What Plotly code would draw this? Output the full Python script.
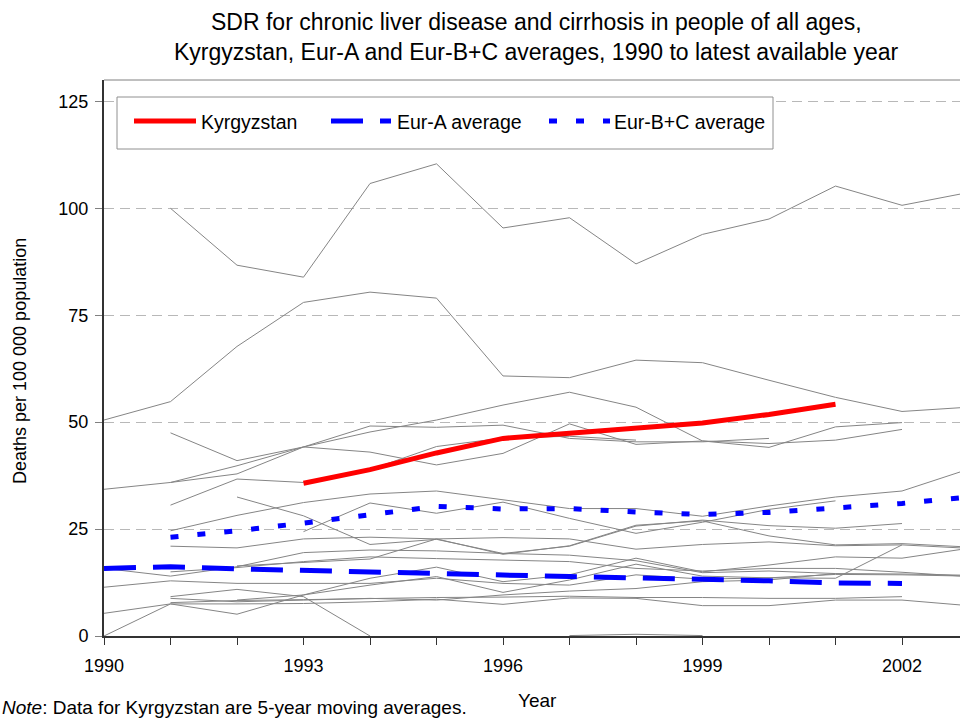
import plotly.graph_objects as go

# Years on the x axis
years = list(range(1990, 2004))
tick_years = [1990, 1993, 1996, 1999, 2002]
y_ticks = [0, 25, 50, 75, 100, 125]

# Standardized death rates per 100 000 (None = no data for that year)
kyrgyzstan = [None, None, None, 35.7, 38.9, 42.8, 46.2, 47.4, 48.6, 49.8, 51.8, 54.2, None, None]
eur_a_avg = [15.8, 16.2, 15.7, 15.3, 15.0, 14.6, 14.2, 13.9, 13.6, 13.3, 12.9, 12.4, 12.3, None]
eur_bc_avg = [None, 23.1, 24.6, 26.4, 28.3, 30.3, 29.7, 29.8, 29.0, 28.4, 28.9, 29.9, 31.0, 32.5]

# Other countries of the region (thin grey lines)
country_01 = [None, 100.0, 86.7, 83.9, 105.8, 110.4, 95.4, 97.8, 87.0, 93.9, 97.5, 105.2, 100.7, 103.7]
country_02 = [50.5, 54.8, 67.7, 78.0, 80.4, 79.0, 60.8, 60.4, 64.5, 63.9, 59.8, 55.8, 52.5, 53.5]
country_03 = [None, 35.9, 37.9, 44.2, 47.7, 50.5, 54.0, 57.0, 53.5, 45.6, 45.0, 45.8, 48.3, None]
country_04 = [34.3, 35.9, 39.8, 44.2, 49.1, 48.8, 49.3, 46.2, 45.4, 45.4, 46.2, None, None, None]
country_05 = [None, 47.5, 41.0, 44.2, 43.0, 40.0, 42.7, 49.6, 44.8, 45.6, 44.1, 48.9, 49.9, None]
country_06 = [None, 30.6, 36.7, 35.9, 38.9, 44.3, 46.3, 46.7, 45.8, None, None, None, None, None]
country_07 = [None, 24.6, 28.2, 31.2, 33.2, 33.9, 31.9, 29.8, 29.8, 28.0, 30.4, 32.5, 33.9, 39.0]
country_08 = [None, None, 32.5, 28.1, 21.4, 22.6, 19.3, 21.0, 25.7, 27.1, 25.8, 25.2, 26.3, None]
country_09 = [None, None, None, 24.4, 31.1, 28.7, 31.3, 27.5, 24.0, 26.6, 29.6, 31.6, None, None]
country_10 = [None, 21.0, 20.6, 22.7, 23.1, 22.7, 23.0, 22.7, 20.3, 21.4, 22.0, 21.1, 21.3, 20.5]
country_11 = [None, None, 16.4, 17.2, 18.0, 22.7, 19.1, 21.1, 25.9, 26.9, 23.4, 21.3, 21.6, 20.8]
country_12 = [None, 15.0, 16.0, 17.4, 18.5, 18.1, 17.8, 17.4, 15.8, 15.2, 15.8, 15.8, 14.9, 13.9]
country_13 = [15.8, 14.0, 16.2, 19.5, 20.1, 19.9, 19.3, 18.9, 17.6, 14.8, 15.2, 14.6, 14.5, 14.2]
country_14 = [0.0, 7.5, 5.1, 9.6, 13.5, 16.1, 12.7, 14.3, 18.2, 15.0, 16.6, 18.5, 18.2, 20.5]
country_15 = [None, None, 8.4, 9.6, 11.9, 13.9, 10.2, 13.1, 16.8, 14.0, 13.6, 13.5, 21.3, None]
country_16 = [11.4, 12.9, 12.3, 12.3, 12.3, 13.5, 12.3, 11.9, 14.3, 13.3, 13.6, 14.4, 14.3, 14.0]
country_17 = [None, 8.8, 8.0, 8.4, 8.8, 8.4, 9.6, 10.5, 11.1, 12.7, 13.1, 14.6, None, None]
country_18 = [5.3, 7.5, 7.5, 7.6, 8.0, 8.6, 7.4, 8.9, 8.8, 7.1, 7.1, 8.4, 8.4, 7.1]
country_19 = [None, 7.8, 8.3, 8.5, 8.8, 9.0, 9.1, 9.3, 9.0, 9.0, 8.8, 8.8, 9.2, None]
country_20 = [None, 9.2, 10.9, 9.2, 0.0, None, None, None, None, None, None, None, None, None]
country_21 = [None, None, None, None, None, None, None, 0.1, 0.4, 0.1, None, None, None, None]

other_countries = [
    country_01, country_02, country_03, country_04, country_05, country_06, country_07,
    country_08, country_09, country_10, country_11, country_12, country_13, country_14,
    country_15, country_16, country_17, country_18, country_19, country_20, country_21,
]

FONT = "Arial, 'Liberation Sans', sans-serif"
RED = "#ff0000"
BLUE = "#0000ff"
DASH_A = "32px,17px"
DASH_BC = "8px,19px"

fig = go.Figure()

for series in other_countries:
    fig.add_trace(go.Scatter(
        x=years, y=series, mode="lines", connectgaps=False,
        line=dict(color="#858585", width=1), hoverinfo="skip", showlegend=False,
    ))

fig.add_trace(go.Scatter(x=years, y=eur_a_avg, mode="lines", name="Eur-A average",
                         line=dict(color=BLUE, width=5, dash=DASH_A), showlegend=False))
fig.add_trace(go.Scatter(x=years, y=eur_bc_avg, mode="lines", name="Eur-B+C average",
                         line=dict(color=BLUE, width=5, dash=DASH_BC), showlegend=False))
fig.add_trace(go.Scatter(x=years, y=kyrgyzstan, mode="lines", name="Kyrgyzstan",
                         line=dict(color=RED, width=5), showlegend=False))

# Plot area: 104..960 px horizontally, 80..636 px vertically
L, T, W, H = 104, 80, 856, 556


def px(xp):
    return (xp - L) / W


def py(yp):
    return (T + H - yp) / H


def label(text, x, y, size, **kw):
    kw.setdefault("xanchor", "center")
    return dict(text=text, x=px(x), y=py(y), xref="paper", yref="paper",
                yanchor="middle", showarrow=False,
                font=dict(size=size, family=FONT, color="black"), **kw)


shapes = [
    # top frame line
    dict(type="line", xref="paper", yref="paper", x0=0, x1=1, y0=1, y1=1,
         line=dict(color="#808080", width=1)),
    # legend box and samples
    dict(type="rect", xref="paper", yref="paper", x0=px(117), x1=px(773), y0=py(149), y1=py(97),
         line=dict(color="#909090", width=1), fillcolor="white", layer="above"),
    dict(type="line", xref="paper", yref="paper", x0=px(134), x1=px(196), y0=py(121), y1=py(121),
         line=dict(color=RED, width=5)),
    dict(type="line", xref="paper", yref="paper", x0=px(331), x1=px(391), y0=py(121), y1=py(121),
         line=dict(color=BLUE, width=5, dash=DASH_A)),
    dict(type="line", xref="paper", yref="paper", x0=px(549), x1=px(610), y0=py(121), y1=py(121),
         line=dict(color=BLUE, width=5, dash=DASH_BC)),
]

annotations = [
    label("SDR for chronic liver disease and cirrhosis in people of all ages,", 536, 22, 23),
    label("Kyrgyzstan, Eur-A and Eur-B+C averages, 1990 to latest available year", 536, 52, 23),
    label("Kyrgyzstan", 199, 122, 19.5, xanchor="left"),
    label("Eur-A average", 395, 122, 19.5, xanchor="left"),
    label("Eur-B+C average", 612, 122, 19.5, xanchor="left"),
    label("Deaths per 100 000 population", 20, 361, 18, textangle=-90),
    label("Year", 537, 700, 19),
    label("<i>Note</i>: Data for Kyrgyzstan are 5-year moving averages.", 0, 707, 19, xanchor="left"),
]

fig.update_layout(
    width=960, height=718,
    margin=dict(l=L, r=960 - L - W, t=T, b=718 - T - H),
    paper_bgcolor="white", plot_bgcolor="white",
    font=dict(family=FONT, color="black"),
    shapes=shapes, annotations=annotations,
    showlegend=False,
)

fig.update_xaxes(
    range=[1990, 1990 + W / 66.5], tickvals=tick_years,
    ticks="outside", ticklen=7, tickwidth=1, tickcolor="#333333",
    ticklabelstandoff=5,
    showline=True, linecolor="#333333", linewidth=2,
    showgrid=False, zeroline=False,
    tickfont=dict(size=18, family=FONT, color="black"),
    minor=dict(tick0=1990, dtick=1, ticks="outside", ticklen=7, tickwidth=1,
               tickcolor="#333333", showgrid=False),
)

fig.update_yaxes(
    range=[0, 130], tickvals=y_ticks,
    ticks="outside", ticklen=7, tickwidth=1, tickcolor="#808080",
    ticklabelstandoff=3,
    showline=True, linecolor="#333333", linewidth=2,
    showgrid=True, gridcolor="#b8b8b8", gridwidth=1, griddash="10px,6px",
    zeroline=False,
    tickfont=dict(size=18, family=FONT, color="black"),
)

fig.write_html("out.html")
